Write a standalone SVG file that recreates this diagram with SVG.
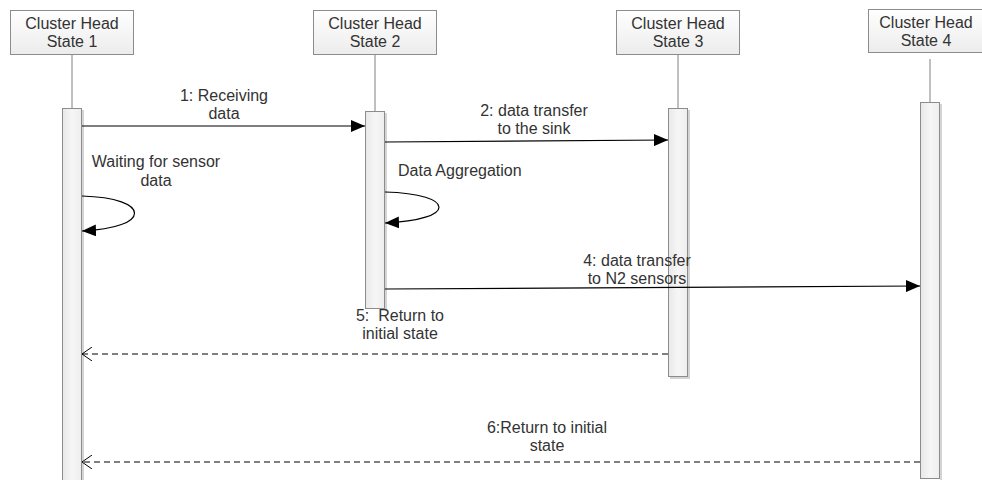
<svg xmlns="http://www.w3.org/2000/svg" width="982" height="480" viewBox="0 0 982 480">
<defs>
<linearGradient id="boxg" x1="0" y1="0" x2="0" y2="1"><stop offset="0" stop-color="#ffffff"/><stop offset="1" stop-color="#ececec"/></linearGradient>
<linearGradient id="barg" x1="0" y1="0" x2="1" y2="0"><stop offset="0" stop-color="#e8e8e8"/><stop offset="0.5" stop-color="#f6f6f6"/><stop offset="1" stop-color="#eeeeee"/></linearGradient>
<marker id="fill" viewBox="0 0 14 12" refX="14" refY="6" markerWidth="14" markerHeight="12" markerUnits="userSpaceOnUse" orient="auto"><path d="M0,0 L14,6 L0,12 Z" fill="#000"/></marker>
<marker id="open" viewBox="0 0 10 14" refX="10" refY="7" markerWidth="10" markerHeight="14" markerUnits="userSpaceOnUse" orient="auto"><path d="M0,0 L10,7 L0,14" fill="none" stroke="#000" stroke-width="1"/></marker>
</defs>
<style>
.box{fill:url(#boxg);stroke:#8c8c8c;stroke-width:1}
.t{font-family:"Liberation Sans",Arial,sans-serif;font-size:16px;fill:#333;text-anchor:middle}
.tl{text-anchor:start}
.life{stroke:#808080;stroke-width:1}
.bar{fill:url(#barg);stroke:#8c8c8c;stroke-width:1}
.sh{fill:#d4d4d4}
.msg{stroke:#000;stroke-width:1.2;fill:none}
.dash{stroke:#000;stroke-width:1;fill:none;stroke-dasharray:6,4}
</style>
<rect width="982" height="480" fill="#fff"/>
<g id="state1">
<rect class="box" x="10.5" y="10.5" width="123" height="44"/>
<text class="t" x="72" y="29">Cluster Head</text>
<text class="t" x="72" y="47">State 1</text>
<line class="life" x1="72" y1="55" x2="72" y2="108"/>
<rect class="sh" x="82" y="110" width="2" height="370"/>
<rect class="bar" x="62.5" y="108.5" width="19" height="375"/>
</g>
<g id="state2">
<rect class="box" x="313.5" y="10.5" width="123" height="44"/>
<text class="t" x="375" y="29">Cluster Head</text>
<text class="t" x="375" y="47">State 2</text>
<line class="life" x1="375" y1="55" x2="375" y2="111"/>
<rect class="sh" x="385" y="113" width="2" height="198"/>
<rect class="bar" x="365.5" y="111.5" width="19" height="197"/>
</g>
<g id="state3">
<rect class="box" x="616.5" y="10.5" width="123" height="44"/>
<text class="t" x="678" y="29">Cluster Head</text>
<text class="t" x="678" y="47">State 3</text>
<line class="life" x1="678" y1="55" x2="678" y2="108"/>
<rect class="sh" x="688" y="110" width="2" height="269"/>
<rect class="sh" x="670" y="377" width="20" height="2"/>
<rect class="bar" x="668.5" y="108.5" width="19" height="268"/>
</g>
<g id="state4">
<rect class="box" x="868.5" y="9.5" width="114" height="43"/>
<text class="t" x="926" y="28">Cluster Head</text>
<text class="t" x="926" y="46">State 4</text>
<line class="life" x1="930" y1="59" x2="930" y2="102"/>
<rect class="sh" x="940" y="104" width="2" height="376"/>
<rect class="bar" x="920.5" y="102.5" width="19" height="376"/>
</g>
<g id="connectors">
<line class="msg" x1="82" y1="126" x2="365" y2="126" marker-end="url(#fill)"/>
<line class="msg" x1="385" y1="142" x2="668" y2="140" marker-end="url(#fill)"/>
<path class="msg" d="M82,196 C152,198 152,228 82,231" marker-end="url(#fill)"/>
<path class="msg" d="M385,192 C457,194 457,220 385,223" marker-end="url(#fill)"/>
<line class="msg" x1="385" y1="289" x2="920" y2="286" marker-end="url(#fill)"/>
<line class="dash" x1="668" y1="354" x2="82" y2="354" marker-end="url(#open)"/>
<line class="dash" x1="920" y1="462" x2="82" y2="462" marker-end="url(#open)"/>
</g>
<g id="labels">
<text class="t" x="224" y="101">1: Receiving</text>
<text class="t" x="224" y="119">data</text>
<text class="t" x="534" y="116">2: data transfer</text>
<text class="t" x="534" y="134">to the sink</text>
<text class="t" x="156" y="167">Waiting for sensor</text>
<text class="t" x="156" y="186">data</text>
<text class="t tl" x="398" y="176">Data Aggregation</text>
<text class="t" x="637" y="266">4: data transfer</text>
<text class="t" x="637" y="284">to N2 sensors</text>
<text class="t" x="400" y="321" xml:space="preserve">5:  Return to</text>
<text class="t" x="400" y="339">initial state</text>
<text class="t" x="547" y="433">6:Return to initial</text>
<text class="t" x="547" y="451">state</text>
</g>
</svg>
